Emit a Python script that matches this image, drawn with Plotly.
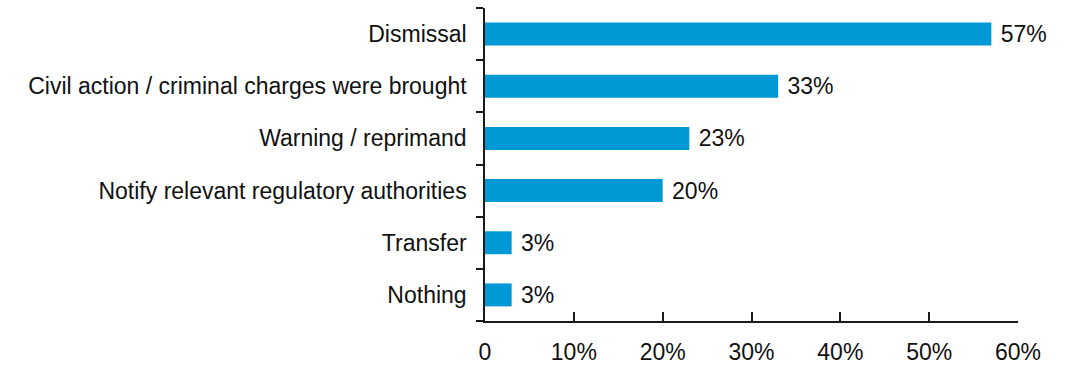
import plotly.graph_objects as go

# Outcome categories, top to bottom, and the share of respondents for each
categories = [
    "Dismissal",
    "Civil action / criminal charges were brought",
    "Warning / reprimand",
    "Notify relevant regulatory authorities",
    "Transfer",
    "Nothing",
]
shares = [57, 33, 23, 20, 3, 3]
x_tick_values = [0, 10, 20, 30, 40, 50, 60]
x_tick_labels = ["0", "10%", "20%", "30%", "40%", "50%", "60%"]

FONT = "Liberation Sans, Arial, Helvetica, sans-serif"
FONT_SIZE = 23
TEXT_COLOR = "#111111"
BAR_COLOR = "#0099d5"
AXIS_COLOR = "#1a1a1a"

fig = go.Figure(
    go.Bar(
        x=shares,
        y=categories,
        orientation="h",
        width=0.44,
        marker=dict(color=BAR_COLOR, line=dict(width=0)),
        # leading space keeps the value labels a little off the bar ends
        text=[f" {v}%" for v in shares],
        textposition="outside",
        textfont=dict(family=FONT, size=FONT_SIZE, color=TEXT_COLOR),
        cliponaxis=False,
        hoverinfo="skip",
    )
)

fig.update_layout(
    width=1055,
    height=366,
    margin=dict(l=485, r=37, t=8, b=45),
    paper_bgcolor="white",
    plot_bgcolor="white",
    showlegend=False,
    uniformtext=dict(minsize=FONT_SIZE, mode="show"),
    font=dict(family=FONT, size=FONT_SIZE, color=TEXT_COLOR),
)

fig.update_xaxes(
    range=[0, 60],
    tickmode="array",
    tickvals=x_tick_values,
    ticktext=x_tick_labels,
    ticks="inside",
    ticklen=9,
    tickwidth=1.5,
    tickcolor=AXIS_COLOR,
    showline=True,
    linecolor=AXIS_COLOR,
    linewidth=1.5,
    showgrid=False,
    zeroline=False,
    automargin=False,
    ticklabelstandoff=10,
    tickfont=dict(family=FONT, size=FONT_SIZE, color=TEXT_COLOR),
)

fig.update_yaxes(
    categoryorder="array",
    categoryarray=categories[::-1],
    range=[-0.5, len(categories) - 0.5],
    tickson="boundaries",
    ticks="outside",
    ticklen=7,
    tickwidth=1.5,
    tickcolor=AXIS_COLOR,
    showline=True,
    linecolor=AXIS_COLOR,
    linewidth=1.5,
    showgrid=False,
    zeroline=False,
    automargin=False,
    ticklabelstandoff=12,
    tickfont=dict(family=FONT, size=FONT_SIZE, color=TEXT_COLOR),
)

fig.write_html("out.html")
